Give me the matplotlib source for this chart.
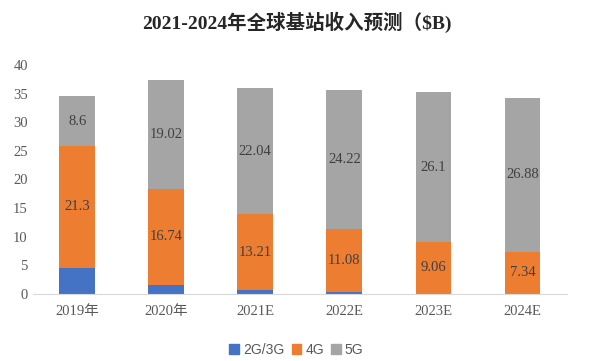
import numpy as np
import matplotlib.pyplot as plt
from matplotlib.patches import Patch

years = ["2019年", "2020年", "2021E", "2022E", "2023E", "2024E"]
g23 = [4.6, 1.6, 0.7, 0.3, 0.05, 0.02]
g4 = [21.3, 16.74, 13.21, 11.08, 9.06, 7.34]
g5 = [8.6, 19.02, 22.04, 24.22, 26.1, 26.88]
series_names = ["2G/3G", "4G", "5G"]

colors = ["#4472C4", "#ED7D31", "#A5A5A5"]
serif = ["Liberation Serif", "Noto Sans CJK SC"]
sans = ["Liberation Sans", "Noto Sans CJK SC"]


def main():
    fig = plt.figure(figsize=(5.93, 3.61), dpi=100)
    ax = fig.add_axes([0.055, 0.186, 0.901, 0.634])
    x = np.arange(len(years))
    w = 0.4
    b1 = np.array(g23)
    b2 = b1 + np.array(g4)
    ax.bar(x, g23, w, color=colors[0])
    ax.bar(x, g4, w, bottom=b1, color=colors[1])
    ax.bar(x, g5, w, bottom=b2, color=colors[2])

    for i in range(len(years)):
        ax.text(x[i], b1[i] + g4[i] / 2, f"{g4[i]:g}", ha="center", va="center",
                fontsize=10.5, color="#404040", family=serif)
        ax.text(x[i], b2[i] + g5[i] / 2, f"{g5[i]:g}", ha="center", va="center",
                fontsize=10.5, color="#404040", family=serif)

    ax.set_xlim(-0.5, len(years) - 0.5)
    ax.set_ylim(0, 40)
    ax.set_yticks(range(0, 41, 5))
    ax.set_xticks(x)
    ax.set_xticklabels(years, family=serif, fontsize=10.5, color="#595959")
    for lab in ax.get_yticklabels():
        lab.set_family(serif)
        lab.set_fontsize(10.5)
        lab.set_color("#595959")
    ax.tick_params(axis="both", length=0)
    ax.tick_params(axis="x", pad=8)
    for s in ["top", "right", "left"]:
        ax.spines[s].set_visible(False)
    ax.spines["bottom"].set_color("#D9D9D9")

    fig.text(0.5, 0.937, "2021-2024年全球基站收入预测（$B)", ha="center", va="center",
             fontsize=14, fontweight="bold", family=serif, color="#262626")

    handles = [Patch(color=c) for c in colors]
    fig.legend(handles, series_names, loc="center", bbox_to_anchor=(0.5, 0.03),
               ncol=3, frameon=False, handlelength=0.7, handleheight=0.7,
               handletextpad=0.3, columnspacing=0.5,
               prop={"family": sans, "size": 10})
    for t in fig.legends[0].get_texts():
        t.set_color("#595959")

    fig.savefig("out.png", dpi=100)


if __name__ == "__main__":
    main()
